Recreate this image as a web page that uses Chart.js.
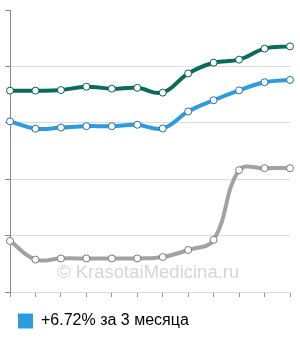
<!DOCTYPE html>
<html>
<head>
<meta charset="utf-8">
<script src="https://cdn.jsdelivr.net/npm/chart.js@4"></script>
<style>
  html, body { margin: 0; padding: 0; background: #fff; }
  #wrap { width: 300px; height: 340px; }
</style>
</head>
<body>
<div id="wrap"><canvas id="chart"></canvas></div>
<script>
const labels = ['1', '2', '3', '4', '5', '6', '7', '8', '9', '10', '11', '12'];
const greenValues = [71.4, 71.4, 71.6, 72.8, 72.1, 72.4, 70.7, 77.5, 81.3, 82.4, 86.3, 87.1];
const blueValues = [60.5, 57.9, 58.3, 58.8, 58.8, 59.3, 58.0, 64.0, 68.0, 71.5, 74.4, 75.2];
const grayValues = [18.1, 11.5, 11.9, 11.9, 11.9, 11.9, 12.4, 14.9, 18.5, 43.2, 43.9, 43.9];
const legendText = '+6.72% за 3 месяца';
const watermark = '© KrasotaiMedicina.ru';

// watermark behind the lines
const watermarkPlugin = {
  id: 'watermark',
  beforeDatasetsDraw(chart) {
    const { ctx } = chart;
    ctx.save();
    ctx.font = '18.5px "Liberation Sans", Arial, sans-serif';
    ctx.fillStyle = '#d6d6d6';
    ctx.textAlign = 'left';
    ctx.textBaseline = 'alphabetic';
    ctx.fillText(watermark, 57, 278);
    ctx.restore();
  }
};

function lineSet(label, data, color, pointBorder) {
  return {
    label: label,
    data: data,
    borderColor: color,
    backgroundColor: color,
    borderWidth: 4,
    tension: 0.4,
    pointRadius: 3.5,
    pointBorderWidth: 1,
    pointBorderColor: pointBorder,
    pointBackgroundColor: '#fff',
    fill: false,
  };
}

const ctx = document.getElementById('chart').getContext('2d');
new Chart(ctx, {
  type: 'line',
  data: {
    labels: labels,
    datasets: [
      lineSet(legendText, blueValues, '#2d9be0', '#1f6fa8'),
      lineSet('green', greenValues, '#086b5b', '#0b5e50'),
      lineSet('gray', grayValues, '#a2a2a2', '#777'),
    ],
  },
  options: {
    responsive: true,
    maintainAspectRatio: false,
    animation: false,
    layout: { padding: { left: 8, top: 10, right: 10, bottom: 1 } },
    plugins: {
      tooltip: { enabled: false },
      legend: {
        position: 'bottom',
        align: 'start',
        labels: {
          boxWidth: 15,
          boxHeight: 15,
          padding: 10,
          color: '#333',
          font: { family: '"Liberation Sans", Arial, sans-serif', size: 16 },
          generateLabels(chart) {
            return [{
              text: legendText,
              fillStyle: '#2d9be0',
              strokeStyle: '#2d9be0',
              lineWidth: 0,
              datasetIndex: 0,
            }];
          },
        },
      },
    },
    scales: {
      x: {
        offset: false,
        ticks: { display: false },
        grid: { drawOnChartArea: false, drawTicks: true, tickLength: 5, tickColor: '#999' },
        border: { display: true, color: '#d8d8d8' },
        afterFit(scale) { scale.height += 6; },
      },
      y: {
        min: 0,
        max: 100,
        ticks: { display: false, stepSize: 20 },
        grid: {
          tickLength: 5,
          tickColor: '#888',
          color: (c) => (c.tick && c.tick.value === 100 ? 'rgba(0,0,0,0)' : '#dcdcdc'),
        },
        border: { display: true, color: '#888' },
        afterFit(scale) { scale.width = 2; },
      },
    },
  },
  plugins: [watermarkPlugin],
});
</script>
</body>
</html>
